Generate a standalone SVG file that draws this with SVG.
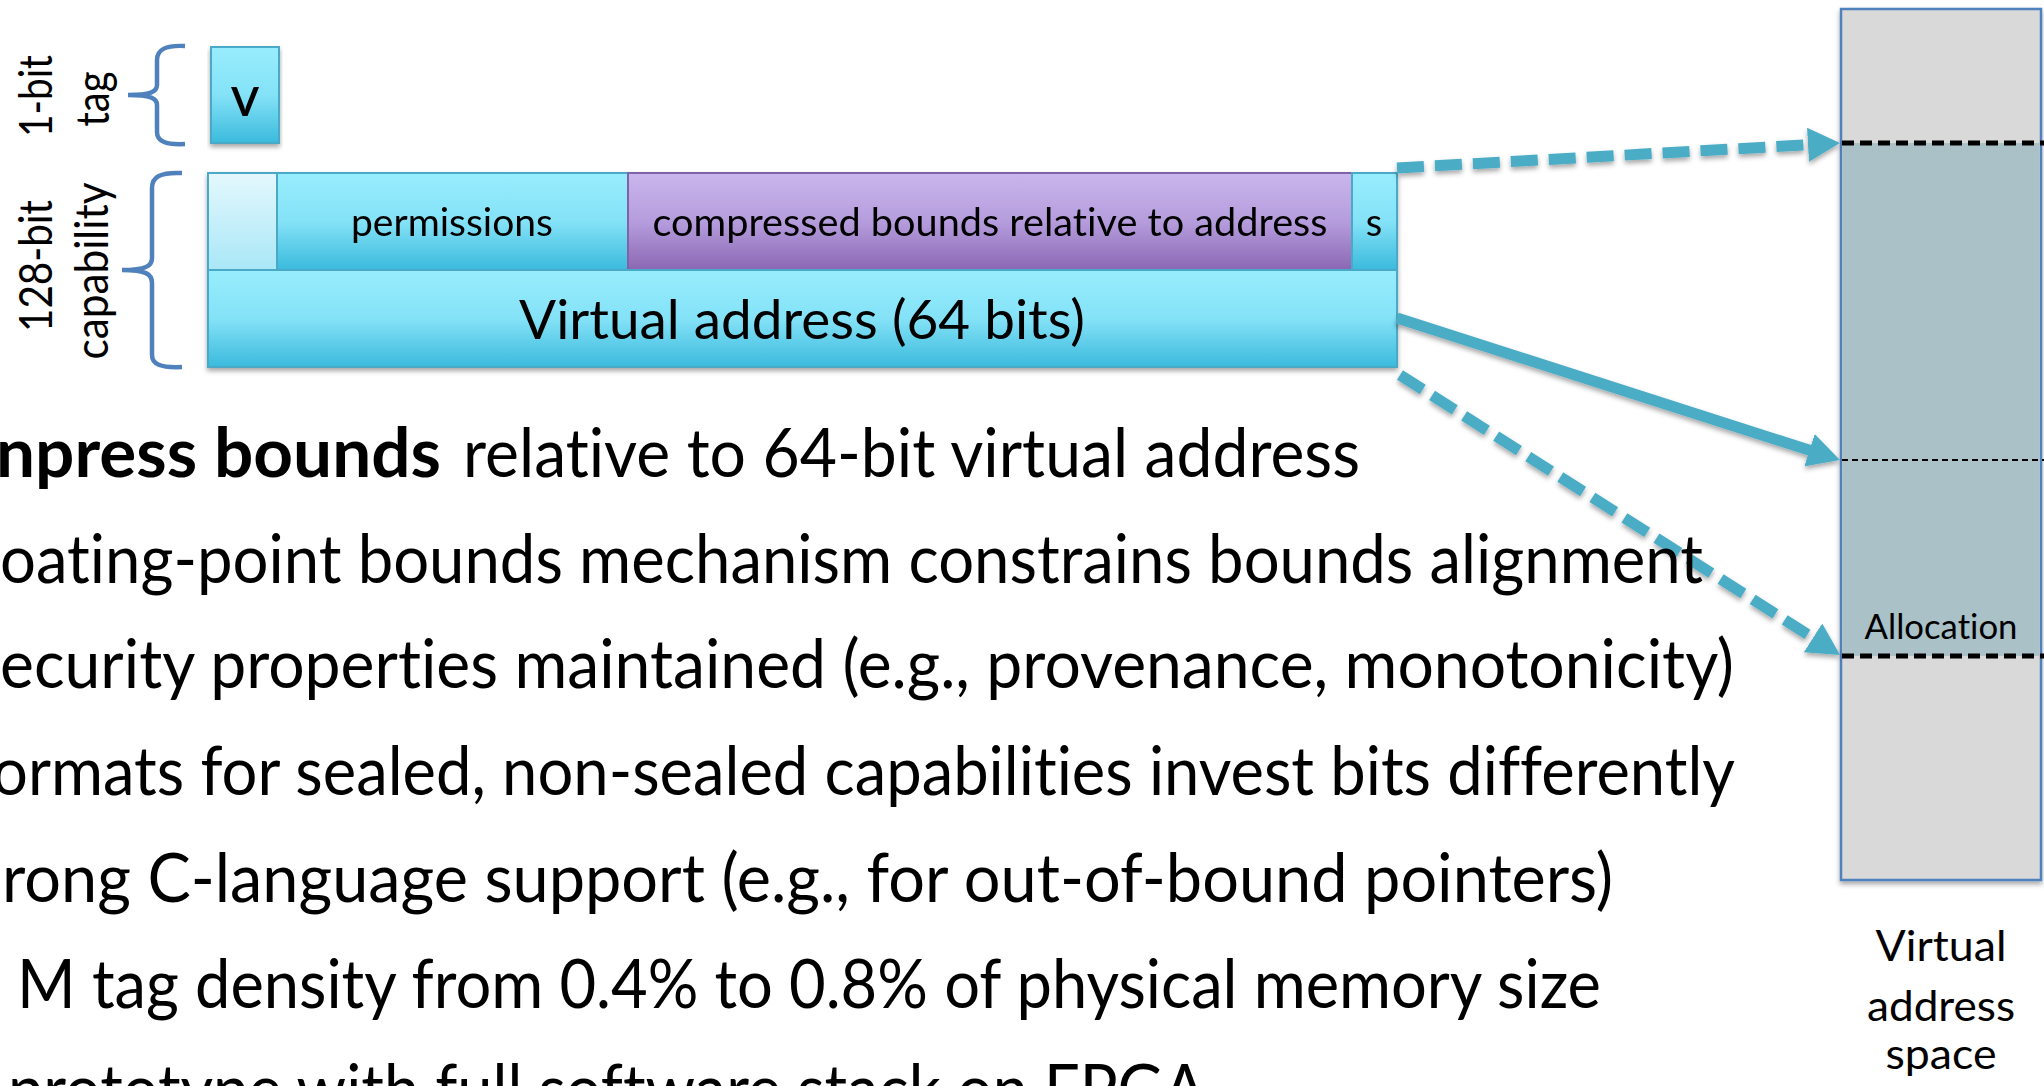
<svg xmlns="http://www.w3.org/2000/svg" width="2044" height="1086" viewBox="0 0 2044 1086">
  <style>
    text { font-variant-ligatures: none; }
    .lbl { font-family: Lato, "Open Sans", "DejaVu Sans", sans-serif; fill: #000; }
    .cell { stroke: #4aa9c6; stroke-width: 2; }
    .cyan { fill: url(#gCyan); }
    .pale { fill: url(#gPale); }
    .purple { fill: url(#gPurple); stroke: #7f62a8; stroke-width: 2; }
    .brace { fill: none; stroke: #4f81bd; stroke-width: 4.5; stroke-linecap: butt; }
    .conn { fill: none; stroke: #4bacc6; stroke-width: 11; }
    .dash { stroke-dasharray: 27 11; }
    .bound { stroke: #000; stroke-width: 5; stroke-dasharray: 12 6; }
    .mid { stroke: #000; stroke-width: 1.8; stroke-dasharray: 6 4; }
    .body { font-family: Lato, "Open Sans", "DejaVu Sans", sans-serif; font-size: 68px; fill: #000; }
  </style>
  <defs>
    <linearGradient id="gCyan" x1="0" y1="0" x2="0" y2="1">
      <stop offset="0" stop-color="#98edfd"/>
      <stop offset="0.5" stop-color="#84e2f7"/>
      <stop offset="1" stop-color="#3bbadd"/>
    </linearGradient>
    <linearGradient id="gPale" x1="0" y1="0" x2="0" y2="1">
      <stop offset="0" stop-color="#e4f8fd"/>
      <stop offset="1" stop-color="#a9e7f7"/>
    </linearGradient>
    <linearGradient id="gPurple" x1="0" y1="0" x2="0" y2="1">
      <stop offset="0" stop-color="#cab6ec"/>
      <stop offset="0.5" stop-color="#b59ddd"/>
      <stop offset="1" stop-color="#8b67b3"/>
    </linearGradient>
    <filter id="shadow" x="-5%" y="-10%" width="110%" height="130%">
      <feDropShadow dx="0" dy="3" stdDeviation="2.5" flood-color="#000" flood-opacity="0.35"/>
    </filter>
    <marker id="head" viewBox="0 0 32 34" refX="10" refY="17" markerWidth="32" markerHeight="34" markerUnits="userSpaceOnUse" orient="auto">
      <path d="M0,0 L32,17 L0,34 Z" fill="#4bacc6"/>
    </marker>
  </defs>

  <rect width="2044" height="1086" fill="#fff"/>

  <!-- bit-width labels with braces -->
  <g id="tag-label">
    <text class="lbl" font-size="46" text-anchor="middle" textLength="82" lengthAdjust="spacingAndGlyphs" transform="translate(52,96) rotate(-90)">1-bit</text>
    <text class="lbl" font-size="46" text-anchor="middle" textLength="55" lengthAdjust="spacingAndGlyphs" transform="translate(109,99) rotate(-90)">tag</text>
    <path class="brace" d="M185,46 C165,45 157,50 157,60 L157,85 C157,92 150,95 128,95 C150,95 157,98 157,105 L157,132 C157,141 165,145 185,144"/>
  </g>
  <g id="cap-label">
    <text class="lbl" font-size="46" text-anchor="middle" textLength="132" lengthAdjust="spacingAndGlyphs" transform="translate(52,266) rotate(-90)">128-bit</text>
    <text class="lbl" font-size="46" text-anchor="middle" textLength="177" lengthAdjust="spacingAndGlyphs" transform="translate(108,271) rotate(-90)">capability</text>
    <path class="brace" d="M182,173 C160,172 152,177 152,188 L152,258 C152,266 146,270 122,270 C146,270 152,274 152,283 L152,355 C152,364 160,368 182,367"/>
  </g>

  <!-- tag bit -->
  <g id="tag-v" filter="url(#shadow)">
    <rect class="cell cyan" x="211" y="47" width="68" height="96"/>
    <text class="lbl" x="245" y="116" font-size="56" font-weight="500" text-anchor="middle">v</text>
  </g>

  <!-- 128-bit capability fields -->
  <g id="capability" filter="url(#shadow)">
    <rect class="cell pale" x="208" y="173" width="69" height="97"/>
    <rect class="cell cyan" x="277" y="173" width="351" height="97"/>
    <rect class="purple" x="628" y="173" width="724" height="97"/>
    <rect class="cell cyan" x="1352" y="173" width="45" height="97"/>
    <rect class="cell cyan" x="208" y="270" width="1189" height="97"/>
    <text class="lbl" x="452" y="236" font-size="38" text-anchor="middle" textLength="202" lengthAdjust="spacingAndGlyphs">permissions</text>
    <text class="lbl" x="990" y="236" font-size="38" text-anchor="middle" textLength="675" lengthAdjust="spacingAndGlyphs">compressed bounds relative to address</text>
    <text class="lbl" x="1374" y="236" font-size="38" text-anchor="middle">s</text>
    <text class="lbl" x="802" y="339" font-size="54" text-anchor="middle" textLength="566" lengthAdjust="spacingAndGlyphs">Virtual address (64 bits)</text>
  </g>

  <!-- virtual address space column -->
  <g id="vaspace">
    <rect x="1841" y="9" width="200" height="871" fill="#d9d9d9" stroke="#4f81bd" stroke-width="2.5" filter="url(#shadow)"/>
    <rect x="1842.5" y="143" width="197" height="513" fill="#aac1c8"/>
    <line class="bound" x1="1842" y1="143" x2="2044" y2="143"/>
    <line class="mid" x1="1842" y1="460" x2="2044" y2="460"/>
    <line class="bound" x1="1842" y1="656" x2="2044" y2="656"/>
    <text class="lbl" x="1941" y="639" font-size="34" text-anchor="middle" textLength="153" lengthAdjust="spacingAndGlyphs">Allocation</text>
    <text class="lbl" x="1941" y="961" font-size="42" text-anchor="middle" textLength="131" lengthAdjust="spacingAndGlyphs">Virtual</text>
    <text class="lbl" x="1941" y="1021" font-size="42" text-anchor="middle" textLength="148" lengthAdjust="spacingAndGlyphs">address</text>
    <text class="lbl" x="1941" y="1069" font-size="42" text-anchor="middle" textLength="111" lengthAdjust="spacingAndGlyphs">space</text>
  </g>

  <!-- pointers from capability fields to the address space -->
  <g id="connectors" filter="url(#shadow)">
    <path class="conn dash" d="M1397,168 L1818,144.2" marker-end="url(#head)"/>
    <path class="conn" d="M1397,318 L1819,453.3" marker-end="url(#head)"/>
    <path class="conn dash" d="M1400,375 L1821.5,643.2" marker-end="url(#head)"/>
  </g>

  <!-- bullet text -->
  <g id="bullets">
    <text class="body" x="-4" y="477" font-weight="bold" textLength="445" lengthAdjust="spacingAndGlyphs">npress bounds</text>
    <text class="body" x="463" y="477" textLength="897" lengthAdjust="spacingAndGlyphs">relative to 64-bit virtual address</text>
    <text class="body" x="0" y="583" textLength="1703" lengthAdjust="spacingAndGlyphs">oating-point bounds mechanism constrains bounds alignment</text>
    <text class="body" x="0" y="688" textLength="1734" lengthAdjust="spacingAndGlyphs">ecurity properties maintained (e.g., provenance, monotonicity)</text>
    <text class="body" x="-8" y="795" textLength="1743" lengthAdjust="spacingAndGlyphs">ormats for sealed, non-sealed capabilities invest bits differently</text>
    <text class="body" x="2" y="902" textLength="1611" lengthAdjust="spacingAndGlyphs">rong C-language support (e.g., for out-of-bound pointers)</text>
    <text class="body" x="17" y="1008" textLength="1584" lengthAdjust="spacingAndGlyphs">M tag density from 0.4% to 0.8% of physical memory size</text>
    <text class="body" x="8" y="1113" textLength="1198" lengthAdjust="spacingAndGlyphs">prototype with full software stack on FPGA</text>
  </g>
</svg>
